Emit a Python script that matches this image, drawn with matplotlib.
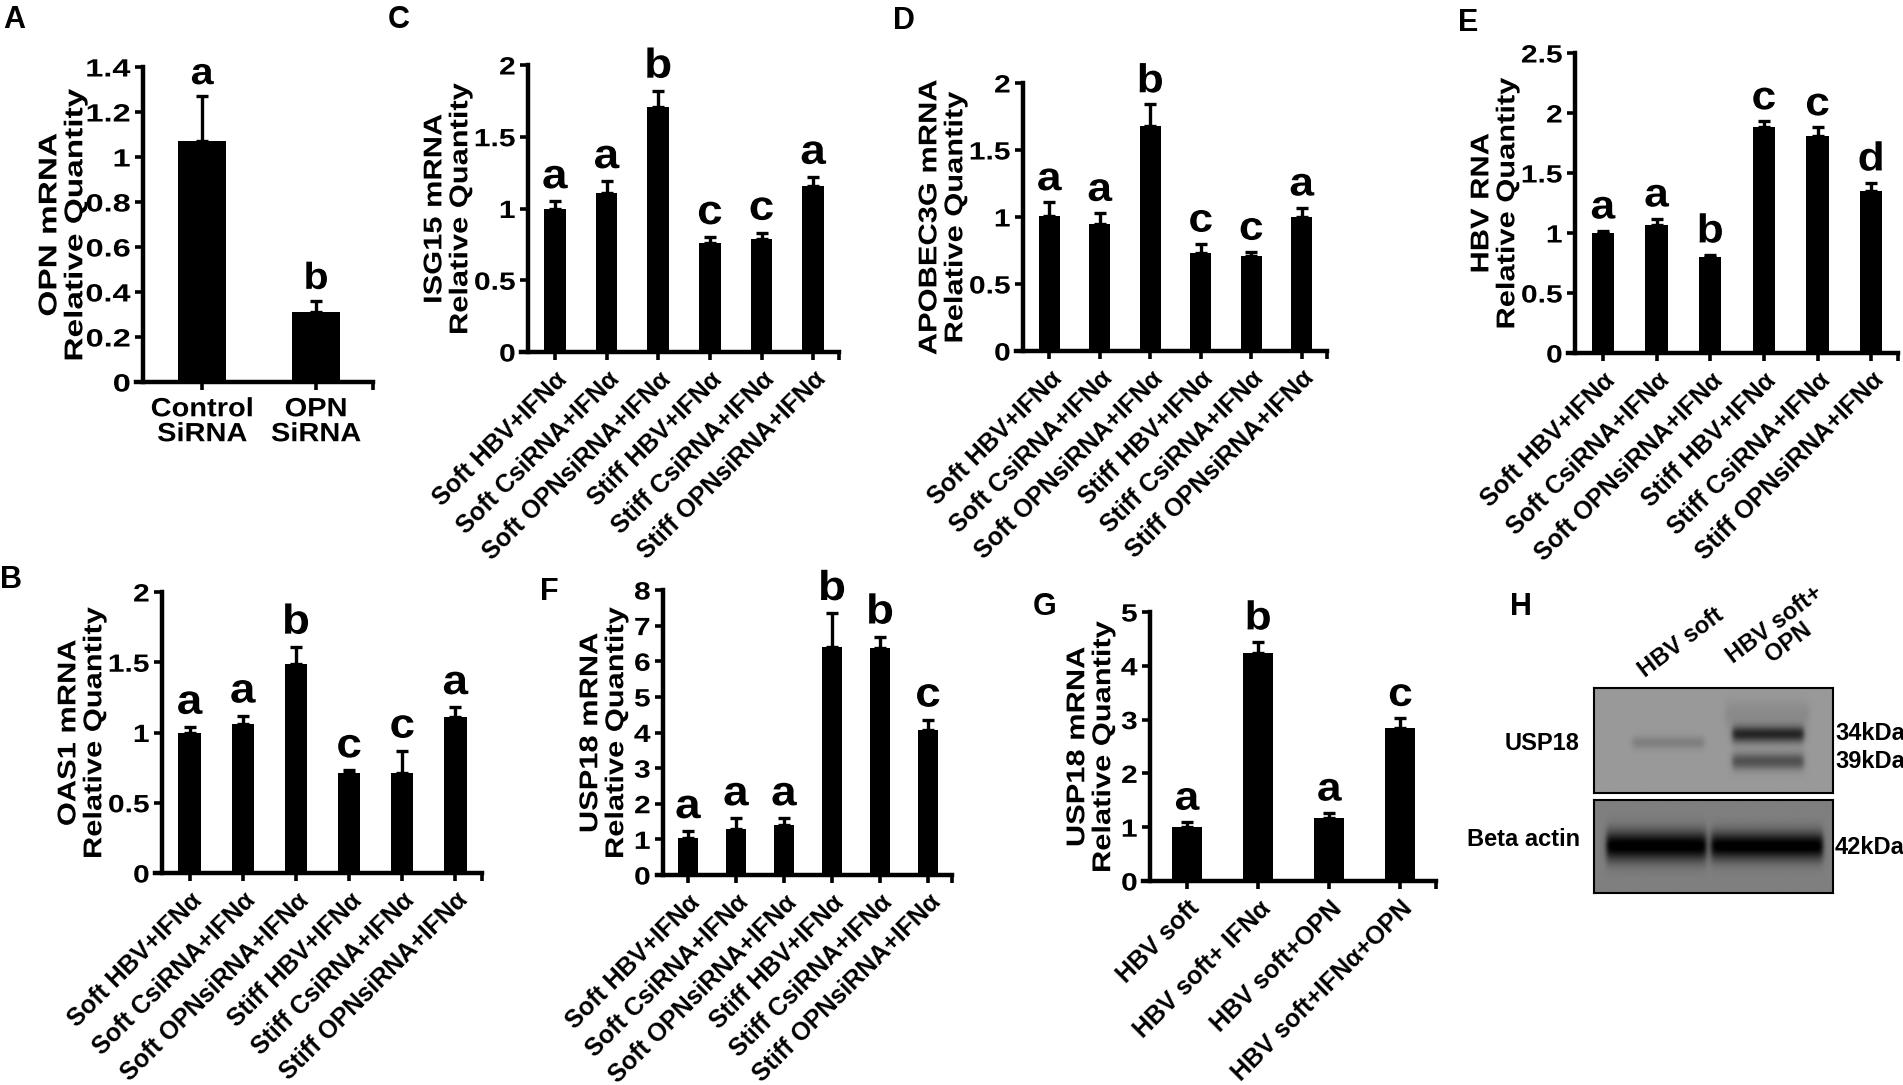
import numpy as np
import matplotlib
matplotlib.use("Agg")
import matplotlib.pyplot as plt
from matplotlib import patheffects
from matplotlib.transforms import Affine2D
from matplotlib.ticker import FormatStrFormatter

plt.rcParams['font.family'] = ['Liberation Sans', 'DejaVu Sans']
plt.rcParams['font.weight'] = 'bold'
plt.rcParams['axes.labelweight'] = 'bold'

W, H = 1903, 1085

# ---- data ----
six_groups = ["Soft HBV+IFNα", "Soft CsiRNA+IFNα", "Soft OPNsiRNA+IFNα",
              "Stiff HBV+IFNα", "Stiff CsiRNA+IFNα", "Stiff OPNsiRNA+IFNα"]
six_letters = ["a", "a", "b", "c", "c", "a"]

opn_groups = ["Control\nSiRNA", "OPN\nSiRNA"]
opn_vals = [1.07, 0.31]
opn_errs = [0.20, 0.05]
opn_letters = ["a", "b"]

isg15_vals = [1.00, 1.11, 1.71, 0.76, 0.79, 1.16]
isg15_errs = [0.05, 0.08, 0.11, 0.04, 0.04, 0.06]

apobec_vals = [1.01, 0.95, 1.68, 0.73, 0.71, 1.00]
apobec_errs = [0.10, 0.08, 0.16, 0.07, 0.03, 0.07]

hbv_vals = [1.00, 1.07, 0.80, 1.88, 1.81, 1.35]
hbv_errs = [0.02, 0.05, 0.02, 0.05, 0.07, 0.07]
hbv_letters = ["a", "a", "b", "c", "c", "d"]

oas1_vals = [1.00, 1.06, 1.49, 0.71, 0.71, 1.11]
oas1_errs = [0.04, 0.06, 0.12, 0.02, 0.16, 0.07]

usp18_vals = [1.03, 1.29, 1.41, 6.41, 6.36, 4.08]
usp18_errs = [0.20, 0.30, 0.18, 0.94, 0.33, 0.28]
usp18_letters = ["a", "a", "a", "b", "b", "c"]

g_groups = ["HBV soft", "HBV soft+ IFNα", "HBV soft+OPN", "HBV soft+IFNα+OPN"]
g_vals = [1.01, 4.24, 1.18, 2.84]
g_errs = [0.09, 0.21, 0.09, 0.19]
g_letters = ["a", "b", "a", "c"]

blot_lanes = ["HBV soft", "HBV soft+\nOPN"]


class Stretch(patheffects.AbstractPathEffect):
    # the source figure's text is a bit wider than Arial, so widen glyphs along the baseline
    def __init__(self, sx, align='center'):
        super().__init__()
        self.sx = sx
        self.align = align

    def draw_path(self, renderer, gc, tpath, affine, rgbFace=None):
        ext = tpath.get_extents()
        x0 = {'left': ext.x0, 'center': (ext.x0 + ext.x1) / 2, 'right': ext.x1}[self.align]
        pre = Affine2D().translate(-x0, 0).scale(self.sx, 1).translate(x0, 0)
        renderer.draw_path(gc, tpath, pre + affine, rgbFace)


def add_ax(fig, left, top, right, bottom):
    return fig.add_axes([left / W, 1 - bottom / H, (right - left) / W, (bottom - top) / H])


def bar_panel(ax, groups, vals, errs, letters, ymax, ystep, ylabel, rotate=True,
              letter_size=30, sx=1.2):
    x = np.arange(len(vals))
    ax.bar(x, vals, width=0.42, color='black', zorder=2)
    ax.errorbar(x, vals, yerr=[np.zeros(len(errs)), errs], fmt='none', ecolor='black',
                elinewidth=2.4, capsize=4.5, capthick=2.4, zorder=3)
    for xi, v, e, let in zip(x, vals, errs, letters):
        ax.annotate(let, (xi, v + e), xytext=(0, 3), textcoords='offset points',
                    ha='center', va='bottom', fontsize=letter_size, fontweight='bold',
                    path_effects=[Stretch(1.1)])
    xmin, xmax = -0.52, len(vals) - 0.5
    ax.set_xlim(xmin, xmax)
    ax.set_ylim(0, ymax)
    ax.set_yticks(np.arange(0, ymax + ystep / 2, ystep))
    ax.yaxis.set_major_formatter(FormatStrFormatter('%g'))
    ax.set_xticks(x)
    ax.set_xticks([xmax], minor=True)
    if rotate:
        ax.set_xticklabels(groups, rotation=45, ha='right', rotation_mode='anchor', fontsize=18)
    else:
        ax.set_xticklabels(groups, fontsize=19, linespacing=1.05)
        for lbl in ax.get_xticklabels():
            lbl.set_path_effects([Stretch(1.1)])
    ax.set_ylabel(ylabel, fontsize=18.5, fontweight='bold', linespacing=1.1, labelpad=6)
    ax.yaxis.label.set_path_effects([Stretch(sx)])
    for s in ['top', 'right']:
        ax.spines[s].set_visible(False)
    for s in ['left', 'bottom']:
        ax.spines[s].set_linewidth(3.2)
    ax.spines['bottom'].set_bounds(xmin - 0.1 * (len(vals) / 6 + 0.3), xmax)
    ax.tick_params(axis='both', which='both', direction='out', length=6, width=2.6)
    ax.tick_params(axis='y', labelsize=18, pad=3)
    ax.tick_params(axis='x', pad=5)
    for lbl in ax.get_yticklabels():
        lbl.set_path_effects([Stretch(sx, 'right')])


fig = plt.figure(figsize=(W / 100, H / 100), dpi=100)

ax = add_ax(fig, 143, 67, 373, 382)
bar_panel(ax, opn_groups, opn_vals, opn_errs, opn_letters, 1.4, 0.2,
          "OPN mRNA\nRelative Quantity", rotate=False, letter_size=27, sx=1.3)

ax = add_ax(fig, 528, 65, 839, 352)
bar_panel(ax, six_groups, isg15_vals, isg15_errs, six_letters, 2, 0.5,
          "ISG15 mRNA\nRelative Quantity")

ax = add_ax(fig, 1023, 83, 1327, 351)
bar_panel(ax, six_groups, apobec_vals, apobec_errs, six_letters, 2, 0.5,
          "APOBEC3G mRNA\nRelative Quantity", letter_size=29)

ax = add_ax(fig, 1575, 53, 1898, 353)
bar_panel(ax, six_groups, hbv_vals, hbv_errs, hbv_letters, 2.5, 0.5,
          "HBV RNA\nRelative Quantity", letter_size=29)

ax = add_ax(fig, 162, 592, 482, 873)
bar_panel(ax, six_groups, oas1_vals, oas1_errs, six_letters, 2, 0.5,
          "OAS1 mRNA\nRelative Quantity")

ax = add_ax(fig, 663, 590, 952, 875)
bar_panel(ax, six_groups, usp18_vals, usp18_errs, usp18_letters, 8, 1,
          "USP18 mRNA\nRelative Quantity")

ax = add_ax(fig, 1150, 612, 1436, 881)
bar_panel(ax, g_groups, g_vals, g_errs, g_letters, 5, 1,
          "USP18 mRNA\nRelative Quantity", letter_size=29)

# ---- western blot (panel H), drawn as smooth bands ----
def blot_image(bg, bands, nx=240, ny=100):
    xx, yy = np.meshgrid(np.linspace(0, 1, nx), np.linspace(0, 1, ny))
    img = np.full((ny, nx), bg)
    for x0, x1, yc, half_h, depth in bands:
        edge = 0.025
        horiz = 1 / (1 + np.exp(-(xx - x0) / edge * 4)) * 1 / (1 + np.exp((xx - x1) / edge * 4))
        vert = np.exp(-((yy - yc) / half_h) ** 2)
        img = img - depth * horiz * vert
    return np.clip(img, 0, 1)

usp18_bands = [(0.16, 0.46, 0.52, 0.06, 0.10),
               (0.58, 0.88, 0.44, 0.08, 0.45),
               (0.58, 0.88, 0.70, 0.08, 0.28),
               (0.55, 0.90, 0.25, 0.12, 0.06)]
actin_bands = [(0.05, 0.47, 0.50, 0.16, 0.52),
               (0.49, 0.96, 0.50, 0.15, 0.52)]

axb = add_ax(fig, 1594, 688, 1833, 793)
axb.imshow(blot_image(0.60, usp18_bands), cmap='gray', vmin=0, vmax=1,
           aspect='auto', extent=[0, 1, 1, 0])
axa = add_ax(fig, 1594, 800, 1833, 893)
axa.imshow(blot_image(0.50, actin_bands), cmap='gray', vmin=0, vmax=1,
           aspect='auto', extent=[0, 1, 1, 0])
for a in (axb, axa):
    a.set_xticks([])
    a.set_yticks([])
    for s in a.spines.values():
        s.set_linewidth(1.5)

fig.text(1580 / W, 1 - 743 / H, "USP18", ha='right', va='center', fontsize=17)
fig.text(1580 / W, 1 - 840 / H, "Beta actin", ha='right', va='center', fontsize=17)
fig.text(1835 / W, 1 - 734 / H, "34kDa", ha='left', va='center', fontsize=17)
fig.text(1835 / W, 1 - 762 / H, "39kDa", ha='left', va='center', fontsize=17)
fig.text(1835 / W, 1 - 848 / H, "42kDa", ha='left', va='center', fontsize=17)
fig.text(1648 / W, 1 - 682 / H, blot_lanes[0], ha='left', va='bottom', fontsize=17,
         rotation=37, rotation_mode='anchor')
fig.text(1750 / W, 1 - 686 / H, blot_lanes[1], ha='left', va='bottom', fontsize=17,
         rotation=37, rotation_mode='anchor', multialignment='center', linespacing=1.0)

# panel letters
for let, px, py in [("A", 3, 5), ("C", 388, 5), ("D", 893, 6), ("E", 1458, 8),
                    ("B", 0, 565), ("F", 540, 577), ("G", 1033, 592), ("H", 1510, 592)]:
    fig.text(px / W, 1 - py / H, let, ha='left', va='top', fontsize=22, fontweight='bold')

fig.savefig("out.png", dpi=100)
